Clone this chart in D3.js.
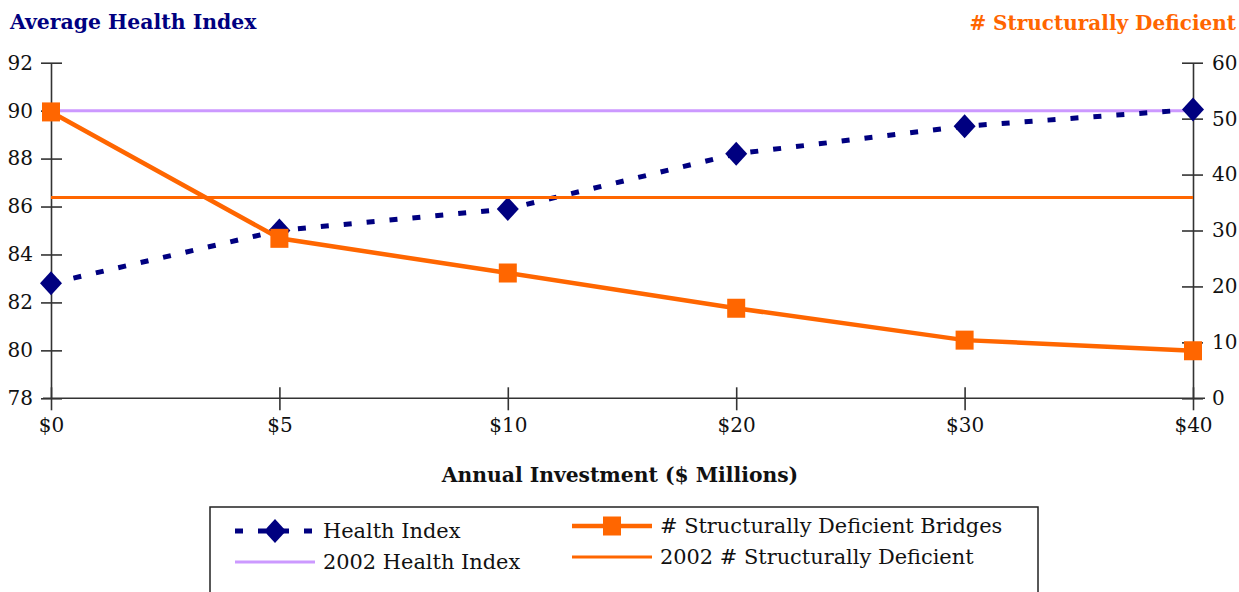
<!DOCTYPE html>
<html>
<head>
<meta charset="utf-8">
<script src="https://cdn.jsdelivr.net/npm/d3@7"></script>
<style>
  html, body { margin: 0; padding: 0; background: #fff; }
  svg { display: block; font-family: "DejaVu Serif", "Liberation Serif", serif; }
</style>
</head>
<body>
<svg id="chart" width="1239" height="592"></svg>
<script>
// Investment scenarios ($ millions per year)
const categories = ["$0", "$5", "$10", "$20", "$30", "$40"];
// Average bridge health index under each scenario (left axis)
const healthIndex = [82.8, 85.0, 85.9, 88.2, 89.35, 90.05];
// Number of structurally deficient bridges (right axis)
const deficientBridges = [51.2, 28.6, 22.4, 16.1, 10.4, 8.5];
// 2002 baseline values
const health2002 = 90.0;
const deficient2002 = 35.9;
// Axis ticks
const leftTicks = [78, 80, 82, 84, 86, 88, 90, 92];
const rightTicks = [0, 10, 20, 30, 40, 50, 60];

const NAVY = "#000080";
const ORANGE = "#FF6600";
const LILAC = "#CC99FF";
const AXIS = "#333";
const FONT = '"DejaVu Serif", "Liberation Serif", serif';

const svg = d3.select("#chart");

const x = d3.scalePoint().domain(categories).range([51, 1193]).padding(0);
const yL = d3.scaleLinear().domain([78, 92]).range([398.3, 62.7]);
const yR = d3.scaleLinear().domain([0, 60]).range([398.3, 62.7]);

// Axes with tick marks that cross the axis line
function styleAxis(g) {
  g.select(".domain").attr("stroke", AXIS).attr("stroke-width", 1.6);
  g.selectAll(".tick line").attr("stroke", AXIS).attr("stroke-width", 1.6);
  g.selectAll(".tick text")
    .attr("fill", "#111")
    .style("font-size", "20px")
    .style("font-family", FONT);
}

const gx = svg.append("g")
  .attr("transform", `translate(0,${yL(78)})`)
  .call(d3.axisBottom(x).tickSizeOuter(0).tickPadding(10));
styleAxis(gx);
gx.selectAll(".tick line").attr("y1", -11).attr("y2", 12);
gx.selectAll(".tick text").attr("dy", "0.9em");
gx.select(".domain").attr("d", `M${x("$0") - 8},0H${x("$40") + 12}`);

const gl = svg.append("g")
  .attr("transform", `translate(${x("$0")},0)`)
  .call(d3.axisLeft(yL).tickValues(leftTicks).tickFormat(d3.format("d")).tickSizeOuter(0).tickPadding(12));
styleAxis(gl);
gl.selectAll(".tick line").attr("x1", -10).attr("x2", 11);

const gr = svg.append("g")
  .attr("transform", `translate(${x("$40")},0)`)
  .call(d3.axisRight(yR).tickValues(rightTicks).tickFormat(d3.format("d")).tickSizeOuter(0).tickPadding(13));
styleAxis(gr);
gr.selectAll(".tick line").attr("x1", -11).attr("x2", 10);

// 2002 health index baseline
svg.append("line")
  .attr("x1", x("$0")).attr("x2", x("$40"))
  .attr("y1", yL(health2002)).attr("y2", yL(health2002))
  .attr("stroke", LILAC).attr("stroke-width", 3);

// Health index series
const lineL = d3.line().x((d, i) => x(categories[i])).y(d => yL(d));
svg.append("path")
  .datum(healthIndex)
  .attr("d", lineL)
  .attr("fill", "none")
  .attr("stroke", NAVY)
  .attr("stroke-width", 5)
  .attr("stroke-dasharray", "8,15");

const diamond = "M0,-12L11,0L0,12L-11,0Z";
svg.append("g").selectAll("path")
  .data(healthIndex)
  .join("path")
  .attr("transform", (d, i) => `translate(${x(categories[i])},${yL(d)})`)
  .attr("d", diamond)
  .attr("fill", NAVY);

// 2002 structurally deficient baseline
svg.append("line")
  .attr("x1", x("$0")).attr("x2", x("$40"))
  .attr("y1", yR(deficient2002)).attr("y2", yR(deficient2002))
  .attr("stroke", ORANGE).attr("stroke-width", 3);

// Structurally deficient bridges series
const lineR = d3.line().x((d, i) => x(categories[i])).y(d => yR(d));
svg.append("path")
  .datum(deficientBridges)
  .attr("d", lineR)
  .attr("fill", "none")
  .attr("stroke", ORANGE)
  .attr("stroke-width", 4.5);

svg.append("g").selectAll("rect")
  .data(deficientBridges)
  .join("rect")
  .attr("x", (d, i) => x(categories[i]) - 9)
  .attr("y", d => yR(d) - 9.5)
  .attr("width", 18)
  .attr("height", 19)
  .attr("fill", ORANGE);

// Axis titles
svg.append("text")
  .attr("x", 10).attr("y", 29)
  .attr("fill", NAVY)
  .style("font-weight", "bold").style("font-size", "20.4px")
  .text("Average Health Index");

svg.append("text")
  .attr("x", 1236).attr("y", 30)
  .attr("text-anchor", "end")
  .attr("fill", ORANGE)
  .style("font-weight", "bold").style("font-size", "20px")
  .text("# Structurally Deficient");

svg.append("text")
  .attr("x", 620).attr("y", 482)
  .attr("text-anchor", "middle")
  .attr("fill", "#111")
  .style("font-weight", "bold").style("font-size", "20.3px")
  .text("Annual Investment ($ Millions)");

// Legend
const legend = svg.append("g");
legend.append("rect")
  .attr("x", 210).attr("y", 507)
  .attr("width", 828).attr("height", 100)
  .attr("fill", "#fff")
  .attr("stroke", "#222").attr("stroke-width", 1.5);

const legendItems = [
  { label: "Health Index", x: 235, y: 531, kind: "health" },
  { label: "2002 Health Index", x: 235, y: 562, kind: "health2002" },
  { label: "# Structurally Deficient Bridges", x: 572, y: 526, kind: "deficient" },
  { label: "2002 # Structurally Deficient", x: 572, y: 557, kind: "deficient2002" }
];

legendItems.forEach(item => {
  const g = legend.append("g");
  if (item.kind === "health") {
    g.append("line").attr("x1", item.x).attr("x2", item.x + 80)
      .attr("y1", item.y).attr("y2", item.y)
      .attr("stroke", NAVY).attr("stroke-width", 5)
      .attr("stroke-dasharray", "8,15");
    g.append("path").attr("d", diamond)
      .attr("transform", `translate(${item.x + 40},${item.y})`)
      .attr("fill", NAVY);
  } else if (item.kind === "health2002") {
    g.append("line").attr("x1", item.x).attr("x2", item.x + 80)
      .attr("y1", item.y).attr("y2", item.y)
      .attr("stroke", LILAC).attr("stroke-width", 3);
  } else if (item.kind === "deficient") {
    g.append("line").attr("x1", item.x).attr("x2", item.x + 80)
      .attr("y1", item.y).attr("y2", item.y)
      .attr("stroke", ORANGE).attr("stroke-width", 4.5);
    g.append("rect").attr("x", item.x + 31).attr("y", item.y - 9.5)
      .attr("width", 18).attr("height", 19).attr("fill", ORANGE);
  } else {
    g.append("line").attr("x1", item.x).attr("x2", item.x + 80)
      .attr("y1", item.y).attr("y2", item.y)
      .attr("stroke", ORANGE).attr("stroke-width", 3);
  }
  g.append("text")
    .attr("x", item.x + 88).attr("y", item.y + 7)
    .attr("fill", "#111")
    .style("font-size", "20.9px")
    .text(item.label);
});
</script>
</body>
</html>
